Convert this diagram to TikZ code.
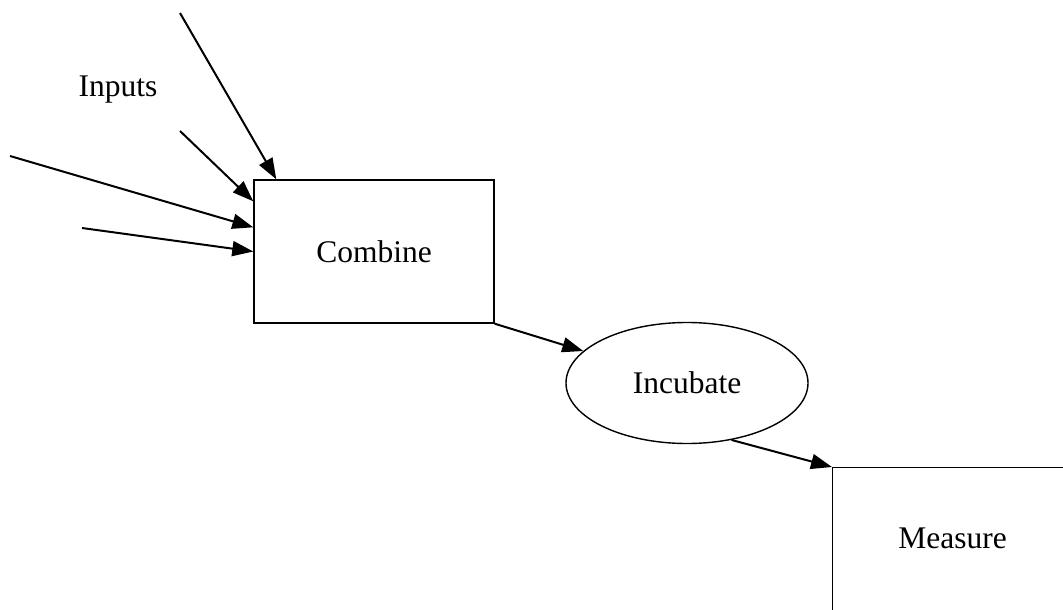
\documentclass[tikz,border=0pt]{standalone}
\usepackage{fontspec}
\setmainfont{Liberation Serif}
\usetikzlibrary{shapes.geometric,arrows.meta}

\begin{document}
\begin{tikzpicture}[x=1pt, y=-1pt, font=\fontsize{31.5}{38}\selectfont,
		flow/.style={-{Triangle[length=21pt, width=15pt]}, line width=2pt}]
		\useasboundingbox (0,0) rectangle (1063,610);
		\clip (0,0) rectangle (1063,610);

		% Combine
		\node (combine) [rectangle, draw, line width=1.4pt, minimum width=240pt, minimum height=143pt] at (374,251.5) {Combine};

		% Incubate
		\node (incubate) [ellipse, draw, line width=1.4pt, inner sep=0pt, minimum width=242pt, minimum height=121pt] at (687,383) {Incubate};

		% Measure (runs off the page)
		\node (measure) [rectangle, draw, line width=1.4pt, anchor=north west, minimum width=240pt, minimum height=170pt] at (832,467) {\raisebox{30pt}{Measure}};

		% Inputs
		\node (inputs) at (118,90) {Inputs};
		\coordinate (in1) at (180,13);
		\coordinate (in2) at (180,131);
		\coordinate (in3) at (10,156);
		\coordinate (in4) at (82,228);

		% Arrows
		\draw[flow] (in1) -- ([xshift=23pt]combine.north west);
		\draw[flow] (in2) -- ([yshift=-22pt]combine.north west);
		\draw[flow] (in3) -- ([yshift=-48pt]combine.north west);
		\draw[flow] (in4) -- (combine.west);
		\draw[flow] (combine.south east) -- (incubate);
		\draw[flow] (incubate.-52) -- (measure.north west);
	\end{tikzpicture}
\end{document}
